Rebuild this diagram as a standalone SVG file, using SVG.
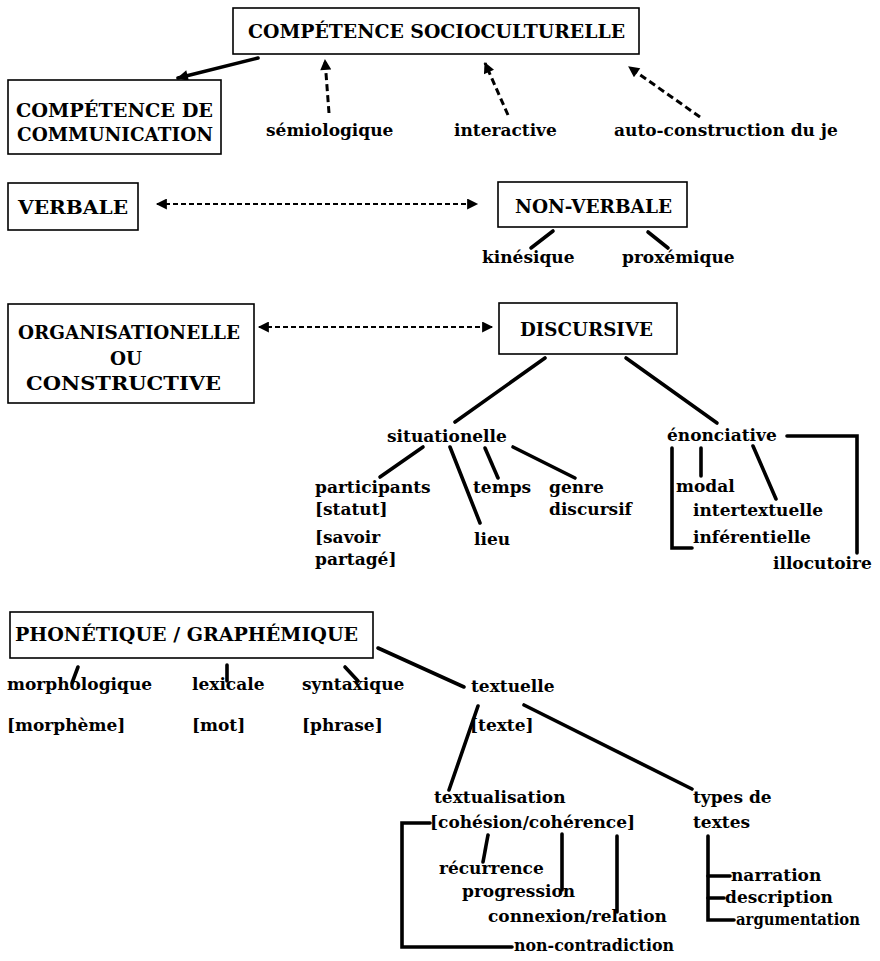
<svg xmlns="http://www.w3.org/2000/svg" width="880" height="961" viewBox="0 0 880 961">
<style>
text{font-family:"DejaVu Serif","Liberation Serif",serif;font-weight:bold;fill:#000}
.t{font-size:17px}
.u{font-size:18px}
.box{fill:#fff;stroke:#000;stroke-width:1.6}
.ln{stroke:#000;stroke-width:3.6;fill:none;stroke-linecap:round;stroke-linejoin:miter}
.da{stroke:#000;stroke-width:3;fill:none;stroke-dasharray:7 4}
.dd{stroke:#000;stroke-width:2;fill:none;stroke-dasharray:5 3}
</style>
<defs>
<marker id="ah" viewBox="0 0 10 10" refX="9" refY="5" markerWidth="13" markerHeight="11" markerUnits="userSpaceOnUse" orient="auto-start-reverse"><path d="M0,0 L10,5 L0,10 z" fill="#000"/></marker>
</defs>
<rect width="880" height="961" fill="#fff"/>

<g id="connectors">
<line class="ln" x1="258" y1="58" x2="178" y2="78" marker-end="url(#ah)"/>
<line class="da" x1="329" y1="113" x2="325" y2="60" marker-end="url(#ah)"/>
<line class="da" x1="508" y1="115" x2="485" y2="63" marker-end="url(#ah)"/>
<line class="da" x1="700" y1="117" x2="629" y2="67" marker-end="url(#ah)"/>
<line class="dd" x1="157" y1="204" x2="477" y2="204" marker-start="url(#ah)" marker-end="url(#ah)"/>
<line class="dd" x1="259" y1="327" x2="492" y2="327" marker-start="url(#ah)" marker-end="url(#ah)"/>
<line class="ln" x1="553" y1="231" x2="531" y2="248"/>
<line class="ln" x1="648" y1="232" x2="668" y2="248"/>
<line class="ln" x1="545" y1="358" x2="455" y2="422"/>
<line class="ln" x1="626" y1="358" x2="717" y2="423"/>
<line class="ln" x1="423" y1="447" x2="380" y2="477"/>
<line class="ln" x1="450" y1="447" x2="480" y2="523"/>
<line class="ln" x1="485" y1="448" x2="498" y2="478"/>
<line class="ln" x1="513" y1="447" x2="575" y2="478"/>
<polyline class="ln" points="787,436 857,436 857,553"/>
<line class="ln" x1="701" y1="448" x2="701" y2="476"/>
<line class="ln" x1="753" y1="446" x2="776" y2="499"/>
<polyline class="ln" points="672,448 672,548 692,548"/>
<line class="ln" x1="78" y1="667" x2="72" y2="683"/>
<line class="ln" x1="227" y1="665" x2="227" y2="681"/>
<line class="ln" x1="345" y1="667" x2="358" y2="681"/>
<line class="ln" x1="378" y1="648" x2="464" y2="687"/>
<line class="ln" x1="478" y1="706" x2="449" y2="790"/>
<line class="ln" x1="524" y1="705" x2="692" y2="789"/>
<polyline class="ln" points="430,823 402,823 402,947 512,947"/>
<line class="ln" x1="488" y1="835" x2="483" y2="862"/>
<line class="ln" x1="562" y1="834" x2="562" y2="890"/>
<line class="ln" x1="617" y1="836" x2="617" y2="912"/>
<polyline class="ln" points="708,836 708,920 734,920"/>
<line class="ln" x1="708" y1="876" x2="730" y2="876"/>
<line class="ln" x1="708" y1="898" x2="724" y2="898"/>
</g>

<g id="n-socioculturelle">
<rect class="box" x="233" y="8" width="406" height="46"/>
<text class="u" x="248" y="38" textLength="377" lengthAdjust="spacingAndGlyphs">COMPÉTENCE SOCIOCULTURELLE</text>
</g>
<g id="n-communication">
<rect class="box" x="8" y="80" width="213" height="74"/>
<text class="u" x="16" y="117" textLength="197" lengthAdjust="spacingAndGlyphs">COMPÉTENCE DE</text>
<text class="u" x="17" y="141" textLength="196" lengthAdjust="spacingAndGlyphs">COMMUNICATION</text>
</g>
<g id="n-semiologique"><text class="t" x="266" y="136">sémiologique</text></g>
<g id="n-interactive"><text class="t" x="454" y="136">interactive</text></g>
<g id="n-autoconstruction"><text class="t" x="614" y="136">auto-construction du je</text></g>

<g id="n-verbale">
<rect class="box" x="8" y="183" width="130" height="47"/>
<text class="u" x="18" y="214" textLength="110" lengthAdjust="spacingAndGlyphs">VERBALE</text>
</g>
<g id="n-nonverbale">
<rect class="box" x="498" y="182" width="189" height="45"/>
<text class="u" x="515" y="213" textLength="157" lengthAdjust="spacingAndGlyphs">NON-VERBALE</text>
</g>
<g id="n-kinesique"><text class="t" x="482" y="263">kinésique</text></g>
<g id="n-proxemique"><text class="t" x="622" y="263">proxémique</text></g>

<g id="n-organisationelle">
<rect class="box" x="8" y="304" width="246" height="99"/>
<text class="u" x="18" y="339" textLength="222" lengthAdjust="spacingAndGlyphs">ORGANISATIONELLE</text>
<text class="u" x="110" y="365" textLength="32" lengthAdjust="spacingAndGlyphs">OU</text>
<text class="u" x="26" y="390" textLength="195" lengthAdjust="spacingAndGlyphs">CONSTRUCTIVE</text>
</g>
<g id="n-discursive">
<rect class="box" x="499" y="303" width="178" height="51"/>
<text class="u" x="520" y="336" textLength="133" lengthAdjust="spacingAndGlyphs">DISCURSIVE</text>
</g>

<g id="n-situationelle"><text class="t" x="387" y="442">situationelle</text></g>
<g id="n-participants">
<text class="t" x="315" y="493">participants</text>
<text class="t" x="315" y="515">[statut]</text>
<text class="t" x="315" y="543">[savoir</text>
<text class="t" x="315" y="565">partagé]</text>
</g>
<g id="n-lieu"><text class="t" x="474" y="545">lieu</text></g>
<g id="n-temps"><text class="t" x="473" y="493">temps</text></g>
<g id="n-genre">
<text class="t" x="549" y="493">genre</text>
<text class="t" x="549" y="515">discursif</text>
</g>

<g id="n-enonciative"><text class="t" x="667" y="441">énonciative</text></g>
<g id="n-modal"><text class="t" x="676" y="492">modal</text></g>
<g id="n-intertextuelle"><text class="t" x="693" y="516">intertextuelle</text></g>
<g id="n-inferentielle"><text class="t" x="693" y="543">inférentielle</text></g>
<g id="n-illocutoire"><text class="t" x="773" y="569">illocutoire</text></g>

<g id="n-phonetique">
<rect class="box" x="10" y="612" width="363" height="46"/>
<text class="u" x="15" y="641" textLength="343" lengthAdjust="spacingAndGlyphs">PHONÉTIQUE / GRAPHÉMIQUE</text>
</g>
<g id="n-morphologique">
<text class="t" x="7" y="690">morphologique</text>
<text class="t" x="7" y="731">[morphème]</text>
</g>
<g id="n-lexicale">
<text class="t" x="192" y="690">lexicale</text>
<text class="t" x="192" y="731">[mot]</text>
</g>
<g id="n-syntaxique">
<text class="t" x="302" y="690">syntaxique</text>
<text class="t" x="302" y="731">[phrase]</text>
</g>
<g id="n-textuelle">
<text class="t" x="471" y="692">textuelle</text>
<text class="t" x="470" y="731">[texte]</text>
</g>
<g id="n-textualisation">
<text class="t" x="434" y="803">textualisation</text>
<text class="t" x="430" y="828">[cohésion/cohérence]</text>
</g>
<g id="n-recurrence"><text class="t" x="439" y="874">récurrence</text></g>
<g id="n-progression"><text class="t" x="462" y="897">progression</text></g>
<g id="n-connexion"><text class="t" x="488" y="922">connexion/relation</text></g>
<g id="n-noncontradiction"><text class="t" x="514" y="951" textLength="160" lengthAdjust="spacingAndGlyphs">non-contradiction</text></g>
<g id="n-types">
<text class="t" x="693" y="803">types de</text>
<text class="t" x="693" y="828">textes</text>
</g>
<g id="n-narration"><text class="t" x="731" y="881">narration</text></g>
<g id="n-description"><text class="t" x="725" y="903">description</text></g>
<g id="n-argumentation"><text class="t" x="736" y="925" textLength="124" lengthAdjust="spacingAndGlyphs">argumentation</text></g>
</svg>
